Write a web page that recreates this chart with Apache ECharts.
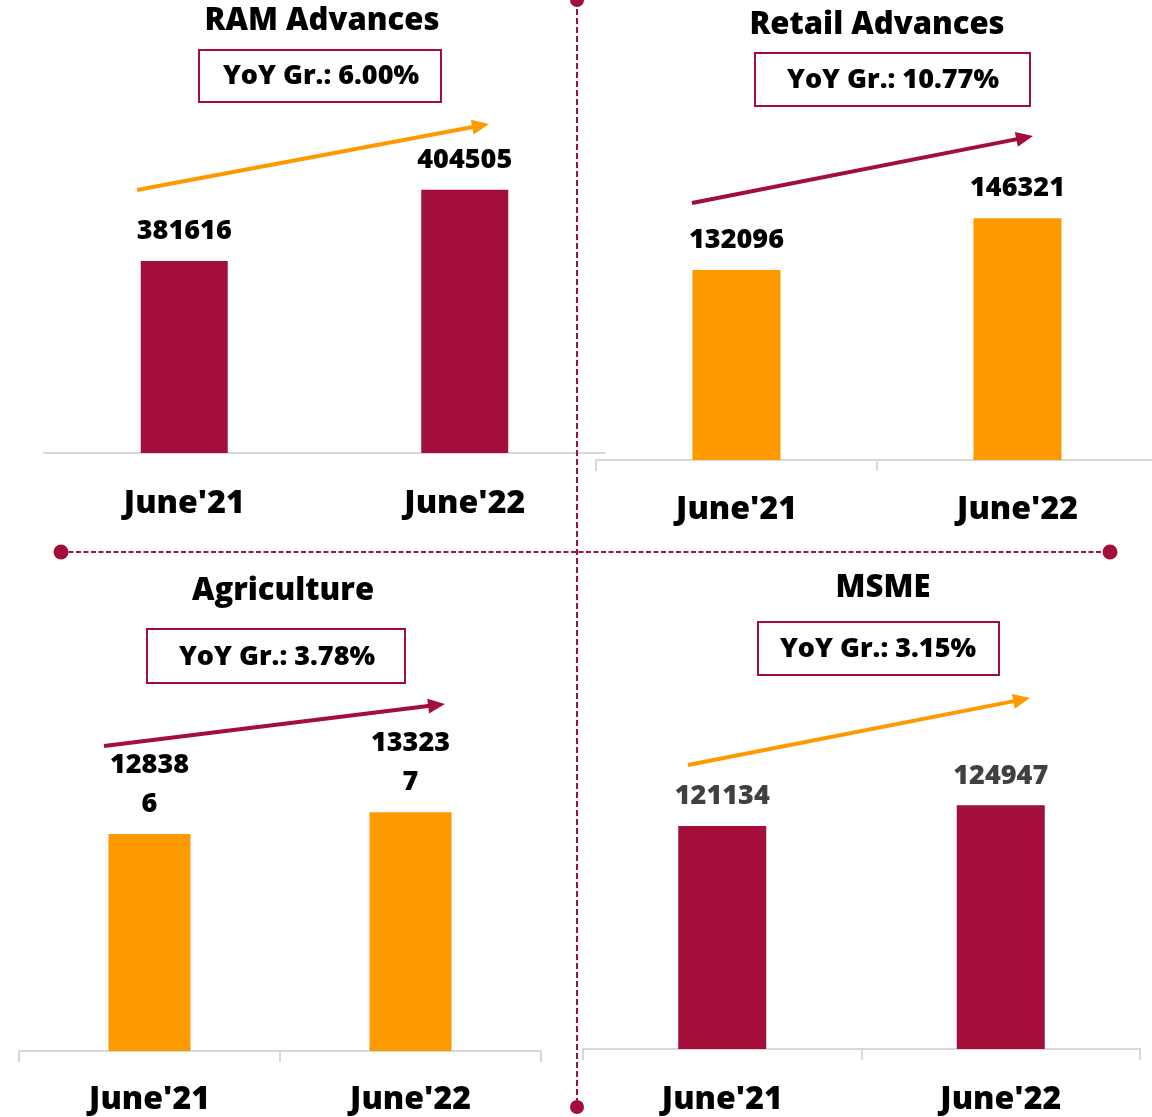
<!DOCTYPE html>
<html>
<head>
<meta charset="utf-8">
<script src="https://cdn.jsdelivr.net/npm/echarts@6/dist/echarts.min.js"></script>
<style>
html,body{margin:0;padding:0;background:#fff;overflow:hidden;}
#chart{width:1160px;height:1117px;}
</style>
</head>
<body>
<div id="chart"></div>
<script>
// ---- data ----
const categories = ["June'21", "June'22"];
const ramValues = [381616, 404505];
const retailValues = [132096, 146321];
const agriValues = [128386, 133237];
const msmeValues = [121134, 124947];
const panelTitles = ["RAM Advances", "Retail Advances", "Agriculture", "MSME"];
const yoyLabels = ["YoY Gr.: 6.00%", "YoY Gr.: 10.77%", "YoY Gr.: 3.78%", "YoY Gr.: 3.15%"];

// ---- style ----
const CRIMSON = '#A30E3B';
const ORANGE = '#FF9900';
const FONT = '"Open Sans", "Liberation Sans", sans-serif';
const W = 800;

const chart = echarts.init(document.getElementById('chart'), null, {renderer: 'canvas'});

const grids = [
  {left: 44, width: 561, top: 141.4, height: 311.6},
  {left: 596, width: 562, top: 95.3, height: 364.7},
  {left: 19, width: 522, top: 602.5, height: 448.5},
  {left: 583, width: 557, top: 615.3, height: 433.7}
];
const yRanges = [[320000, 420000], [80000, 180000], [80000, 180000], [80000, 160000]];
const barColors = [CRIMSON, ORANGE, ORANGE, CRIMSON];
const barWidths = [87, 88, 82, 88];
const valueSets = [ramValues, retailValues, agriValues, msmeValues];
const labelColors = ['#000', '#000', '#000', '#404040'];
const showTicks = [false, true, true, true];
const labelMargins = [35, 34, 33, 35];

function arrow(x1, y1, x2, y2, color) {
  const dx = x2 - x1, dy = y2 - y1, L = Math.hypot(dx, dy);
  const ux = dx / L, uy = dy / L, hl = 17, hw = 7.5;
  const bx = x2 - ux * hl, by = y2 - uy * hl;
  return [
    {type: 'line', shape: {x1: x1, y1: y1, x2: bx + ux * 2, y2: by + uy * 2}, style: {stroke: color, lineWidth: 4}},
    {type: 'polygon', shape: {points: [[x2, y2], [bx - uy * hw, by + ux * hw], [bx + uy * hw, by - ux * hw]]}, style: {fill: color}}
  ];
}

function title(text, x, y) {
  return {type: 'text', x: x, y: y, style: {text: text, fill: '#000', font: W + ' 31px ' + FONT, align: 'center', verticalAlign: 'middle'}};
}
function yoyBox(text, x1, y1, x2, y2, tx, ty) {
  return [
    {type: 'rect', shape: {x: x1, y: y1, width: x2 - x1, height: y2 - y1}, style: {fill: '#fff', stroke: CRIMSON, lineWidth: 2}},
    {type: 'text', x: tx, y: ty, style: {text: text, fill: '#000', font: W + ' 27px ' + FONT, align: 'center', verticalAlign: 'middle'}}
  ];
}

const graphics = [].concat(
  [title(panelTitles[0], 322, 21), title(panelTitles[1], 877, 25), title(panelTitles[2], 283, 591), title(panelTitles[3], 883, 588)],
  yoyBox(yoyLabels[0], 199, 50, 441, 102, 321, 76),
  yoyBox(yoyLabels[1], 755, 53, 1030, 106, 893, 80),
  yoyBox(yoyLabels[2], 147, 629, 405, 683, 277, 657),
  yoyBox(yoyLabels[3], 758, 622, 999, 675, 878, 649),
  arrow(137, 190, 489, 124, ORANGE),
  arrow(692, 203, 1033, 136, CRIMSON),
  arrow(104, 746, 445, 704, CRIMSON),
  arrow(688, 765, 1030, 698, ORANGE),
  [
    {type: 'line', shape: {x1: 577, y1: 0, x2: 577, y2: 1107}, style: {stroke: CRIMSON, lineWidth: 2, lineDash: [6, 3]}, z: 10},
    {type: 'line', shape: {x1: 61, y1: 552, x2: 1110, y2: 552}, style: {stroke: CRIMSON, lineWidth: 2, lineDash: [5, 2.5]}, z: 10},
    {type: 'circle', shape: {cx: 577, cy: 0, r: 7}, style: {fill: CRIMSON}, z: 11},
    {type: 'circle', shape: {cx: 577, cy: 1107, r: 7}, style: {fill: CRIMSON}, z: 11},
    {type: 'circle', shape: {cx: 61, cy: 552, r: 7.5}, style: {fill: CRIMSON}, z: 11},
    {type: 'circle', shape: {cx: 1110, cy: 552, r: 7.5}, style: {fill: CRIMSON}, z: 11}
  ]
);

const option = {
  animation: false,
  backgroundColor: '#fff',
  grid: grids.map(g => Object.assign({containLabel: false}, g)),
  xAxis: grids.map((g, i) => ({
    type: 'category',
    gridIndex: i,
    data: categories,
    axisLine: {show: true, lineStyle: {color: '#d9d9d9', width: 2}},
    axisTick: {show: showTicks[i], length: 11, lineStyle: {color: '#d9d9d9', width: 2}},
    axisLabel: {color: '#000', fontFamily: FONT, fontWeight: W, fontSize: 32, margin: labelMargins[i]},
    splitLine: {show: false}
  })),
  yAxis: grids.map((g, i) => ({
    type: 'value',
    gridIndex: i,
    min: yRanges[i][0],
    max: yRanges[i][1],
    show: false,
    splitLine: {show: false}
  })),
  series: valueSets.map((vals, i) => ({
    type: 'bar',
    xAxisIndex: i,
    yAxisIndex: i,
    data: vals,
    barWidth: barWidths[i],
    itemStyle: {color: barColors[i]},
    label: Object.assign({
      show: true,
      position: 'top',
      distance: 10,
      color: labelColors[i],
      fontFamily: FONT,
      fontWeight: W,
      fontSize: 27,
      lineHeight: 39
    }, i === 2 ? {width: 82, overflow: 'breakAll'} : {})
  })),
  graphic: graphics
};

chart.setOption(option);
</script>
</body>
</html>
